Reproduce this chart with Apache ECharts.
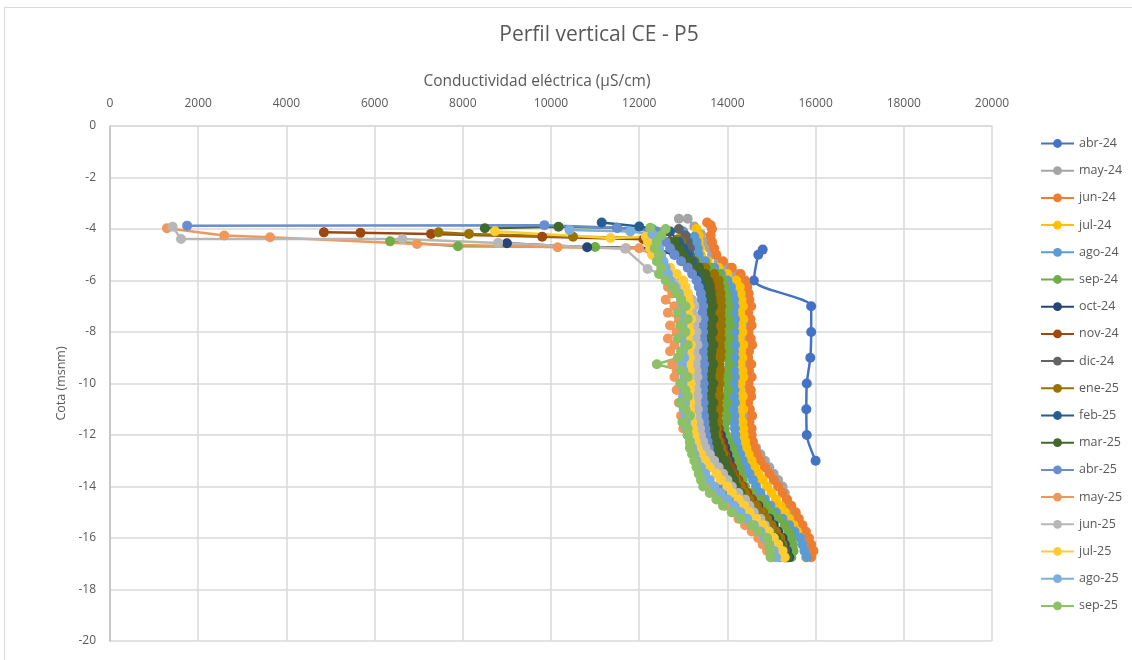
<!DOCTYPE html>
<html>
<head>
<meta charset="utf-8">
<script src="https://cdn.jsdelivr.net/npm/echarts@6/dist/echarts.min.js"></script>
<style>
  html, body { margin: 0; padding: 0; background: #ffffff; }
  #chart { width: 1132px; height: 660px; }
</style>
</head>
<body>
<div id="chart"></div>
<script>
// Depth grid (m) shared by the profile readings below the water surface
const DEPTHS = [-4.5, -4.75, -5, -5.25, -5.5, -5.75, -6, -6.25, -6.5, -6.75,
  -7, -7.25, -7.5, -7.75, -8, -8.25, -8.5, -8.75, -9, -9.25,
  -9.5, -9.75, -10, -10.25, -10.5, -10.75, -11, -11.25, -11.5, -11.75,
  -12, -12.25, -12.5, -12.75, -13, -13.25, -13.5, -13.75, -14, -14.25,
  -14.5, -14.75, -15, -15.25, -15.5, -15.75, -16, -16.25, -16.5, -16.75];

const X_TICKS = [0, 2000, 4000, 6000, 8000, 10000, 12000, 14000, 16000, 18000, 20000];
const Y_TICKS = [0, -2, -4, -6, -8, -10, -12, -14, -16, -18, -20];

// abr-24: point readings [CE, cota]
const pts_abr24 = [[14800, -4.8], [14700, -5.0], [14600, -6.0], [15900, -7], [15900, -8],
  [15880, -9], [15800, -10], [15790, -11], [15800, -12], [16000, -13]];

// Readings near the surface [CE, cota]
const top_may24 = [[12900, -3.6], [13100, -3.6], [13250, -3.9], [13400, -4.2]];
const top_jun24 = [[13540, -3.75], [13620, -3.85], [13650, -4.0], [13620, -4.25]];
const top_jul24 = [[13300, -4.0], [13350, -4.25]];
const top_ago24 = [[12300, -4.0], [13000, -4.1], [13250, -4.3]];
const top_sep24 = [[6350, -4.48], [7890, -4.67], [11000, -4.7]];
const top_oct24 = [[9000, -4.55], [10820, -4.71]];
const top_nov24 = [[4850, -4.13], [5680, -4.15], [7280, -4.19], [9800, -4.3], [12100, -4.4]];
const top_dic24 = [[12900, -4.0], [13050, -4.25]];
const top_ene25 = [[7450, -4.13], [8140, -4.19], [10500, -4.3], [12500, -4.35], [12880, -4.4]];
const top_feb25 = [[11150, -3.75], [12000, -3.9], [12700, -4.1]];
const top_mar25 = [[8500, -3.97], [10170, -3.91], [11500, -3.95], [12600, -4.1]];
const top_abr25 = [[1750, -3.87], [9850, -3.85], [11500, -3.95], [12400, -4.1]];
const top_may25 = [[1290, -3.97], [2590, -4.25], [3630, -4.32], [6960, -4.58], [10150, -4.71], [11700, -4.75]];
const top_jun25 = [[1420, -3.91], [1610, -4.39], [6630, -4.39], [8800, -4.54], [11680, -4.77], [12190, -5.55]];
const top_jul25 = [[8730, -4.09], [11350, -4.35], [12150, -4.3]];
const top_ago25 = [[10420, -4.04], [11800, -4.1], [12300, -4.2]];
const top_sep25 = [[12250, -3.95], [12600, -4.0], [12500, -4.25]];

// Conductividad (µS/cm) at each depth of DEPTHS
const ce_may24 = [13500, 13600, 13650, 13800, 14000, 14200, 14300, 14350, 14380, 14400,
  14400, 14380, 14420, 14400, 14390, 14410, 14400, 14420, 14380, 14400,
  14410, 14400, 14380, 14420, 14400, 14410, 14390, 14400, 14420, 14450,
  14480, 14550, 14650, 14750, 14850, 14950, 15050, 15150, 15250, 15300,
  15350, 15400, 15480, 15550, 15620, 15700, 15780, 15850, 15880, null];
const ce_jun24 = [13650, 13700, 13750, 13900, 14100, 14300, 14400, 14450, 14480, 14500,
  14540, 14470, 14520, 14550, 14480, 14530, 14560, 14490, 14470, 14540,
  14490, 14550, 14480, 14530, 14540, 14470, 14510, 14560, 14500, 14550,
  14550, 14580, 14620, 14680, 14750, 14850, 14950, 15050, 15150, 15250,
  15350, 15450, 15550, 15620, 15700, 15780, 15850, 15900, 15950, 15900];
const ce_jul24 = [13350, 13380, 13400, 13550, 13800, 14000, 14200, 14280, 14300, 14320,
  14350, 14290, 14360, 14310, 14340, 14280, 14360, 14310, 14340, 14290,
  14340, 14360, 14300, 14290, 14350, 14310, 14360, 14290, 14340, 14360,
  14370, 14400, 14430, 14480, 14550, 14620, 14700, 14800, 14900, 15000,
  15100, 15200, 15300, 15400, 15500, 15580, 15650, 15700, 15750, 15780];
const ce_ago24 = [13300, 13330, 13350, 13500, 13700, 13850, 14000, 14080, 14120, 14150,
  14160, 14140, 14170, 14150, 14160, 14140, 14170, 14150, 14160, 14140,
  14150, 14170, 14140, 14160, 14150, 14170, 14140, 14160, 14150, 14170,
  14180, 14200, 14230, 14290, 14350, 14420, 14500, 14580, 14650, 14750,
  14850, 14980, 15100, 15250, 15400, 15520, 15650, 15700, 15750, 15800];
const ce_sep24 = [null, 12300, 12900, 13300, 13600, 13800, 13900, 13950, 13980, 14000,
  14040, 13970, 14030, 14060, 13990, 14040, 13970, 14030, 13990, 14050,
  13970, 14010, 13960, 14020, 13950, 14000, 13940, 13990, 13960, 13940,
  13970, 14030, 14100, 14150, 14200, 14250, 14300, 14350, 14400, 14550,
  14750, 14880, 15000, 15150, 15300, 15380, 15450, 15480, 15500, 15450];
const ce_oct24 = [null, 12300, 12800, 13000, 13200, 13400, 13500, 13600, 13650, 13700,
  13720, 13700, 13740, 13720, 13750, 13730, 13760, 13740, 13750, 13760,
  13740, 13760, 13750, 13770, 13750, 13760, 13780, 13770, 13760, 13800,
  13850, 13900, 13950, 14000, 14050, 14100, 14150, 14200, 14300, 14400,
  14550, 14700, 14800, 14950, 15050, 15150, 15250, 15300, 15350, 15400];
const ce_nov24 = [12700, 12900, 13000, 13150, 13300, 13450, 13600, 13650, 13700, 13720,
  13740, 13720, 13750, 13730, 13760, 13740, 13750, 13720, 13740, 13760,
  13730, 13750, 13760, 13740, 13750, 13770, 13750, 13760, 13780, 13790,
  13800, 13850, 13900, 13950, 14000, 14080, 14150, 14250, 14350, 14450,
  14550, 14680, 14800, 14900, 15000, 15100, 15200, 15250, 15300, 15350];
const ce_dic24 = [13100, 13150, 13150, 13250, 13400, 13500, 13550, 13580, 13600, 13620,
  13640, 13620, 13650, 13630, 13650, 13640, 13660, 13640, 13650, 13630,
  13650, 13660, 13640, 13650, 13630, 13650, 13660, 13640, 13650, 13680,
  13700, 13750, 13800, 13850, 13900, 13980, 14050, 14150, 14250, 14350,
  14450, 14580, 14700, 14820, 14930, 15030, 15120, 15200, 15250, 15300];
const ce_ene25 = [12950, 12980, 13000, 13200, 13500, 13700, 13800, 13820, 13840, 13850,
  13860, 13840, 13850, 13860, 13840, 13850, 13830, 13850, 13840, 13820,
  13830, 13810, 13820, 13800, 13810, 13790, 13800, 13780, 13770, 13760,
  13750, 13800, 13850, 13900, 13950, 14000, 14100, 14200, 14300, 14400,
  14500, 14650, 14800, 14900, 15000, 15100, 15200, 15250, 15300, 15300];
const ce_feb25 = [12900, 13000, 13100, 13200, 13350, 13450, 13500, 13550, 13580, 13600,
  13610, 13600, 13620, 13600, 13610, 13590, 13620, 13600, 13610, 13600,
  13620, 13600, 13610, 13590, 13600, 13620, 13610, 13600, 13620, 13640,
  13660, 13700, 13750, 13800, 13850, 13920, 14000, 14080, 14150, 14250,
  14350, 14480, 14600, 14720, 14850, 14950, 15050, 15150, 15250, 15330];
const ce_mar25 = [12800, 12900, 13000, 13150, 13350, 13500, 13550, 13600, 13620, 13640,
  13670, 13610, 13680, 13620, 13670, 13610, 13680, 13640, 13620, 13680,
  13640, 13620, 13680, 13640, 13620, 13680, 13640, 13690, 13670, 13710,
  13700, 13750, 13800, 13850, 13950, 14000, 14080, 14150, 14200, 14300,
  14400, 14500, 14600, 14750, 14850, 14950, 15100, 15200, 15300, 15370];
const ce_abr25 = [12600, 12700, 12800, 12950, 13100, 13200, 13300, 13350, 13400, 13420,
  13450, 13430, 13460, 13440, 13450, 13430, 13460, 13440, 13450, 13470,
  13450, 13440, 13460, 13450, 13440, 13460, 13450, 13470, 13480, 13500,
  13520, 13550, 13580, 13600, 13650, 13700, 13800, 13850, 13900, 14000,
  14100, 14250, 14400, 14550, 14700, 14850, 14950, 15050, 15150, 15200];
const ce_may25 = [null, 12000, 12300, 12500, 12600, 12700, 12800, 12650, 12750, 12600,
  12800, 12650, 12900, 12700, 12850, 12650, 12800, 12700, 12900, 12750,
  12850, 12800, 12950, 12850, 13000, 12900, 13050, 12950, 13050, 13000,
  13100, 13150, 13200, 13250, 13300, 13400, 13450, 13550, 13600, 13700,
  13800, 13950, 14100, 14250, 14400, 14550, 14700, 14800, 14900, 15000];
const ce_jun25 = [null, null, null, null, null, 12500, 12800, 13000, 13100, 13200,
  13250, 13200, 13300, 13250, 13300, 13280, 13320, 13250, 13300, 13280,
  13300, 13320, 13280, 13300, 13320, 13300, 13330, 13310, 13350, 13380,
  13400, 13450, 13500, 13600, 13700, 13800, 13900, 14000, 14100, 14250,
  14400, 14500, 14600, 14750, 14850, 14950, 15050, 15150, 15200, 15250];
const ce_jul25 = [12200, 12250, 12300, 12500, 12700, 12850, 13000, 13050, 13100, 13120,
  13150, 13100, 13180, 13120, 13150, 13100, 13170, 13130, 13150, 13120,
  13150, 13130, 13170, 13150, 13140, 13160, 13150, 13180, 13200, 13220,
  13250, 13280, 13320, 13400, 13500, 13600, 13750, 13850, 14000, 14100,
  14250, 14380, 14500, 14650, 14800, 14920, 15050, 15150, 15250, 15300];
const ce_ago25 = [12400, 12450, 12500, 12550, 12600, 12650, 12700, 12800, 12900, 12950,
  13000, 12950, 13050, 12980, 13020, 12960, 13040, 12990, 13020, 12970,
  13000, 13030, 12980, 13020, 13000, 13040, 13010, 13050, 13060, 13080,
  13100, 13150, 13200, 13250, 13300, 13400, 13500, 13600, 13700, 13850,
  14000, 14150, 14300, 14450, 14600, 14750, 14850, 14950, 15050, 15100];
const ce_sep25 = [12400, 12350, 12450, 12400, 12500, 12450, 12600, 12750, 12850, 12950,
  13050, 12880, 13100, 12930, 13050, 12880, 13100, 12950, 12880, 12400,
  12950, 13100, 12930, 13050, 13100, 12930, 13050, 13150, 12980, 13100,
  13100, 13150, 13150, 13200, 13250, 13300, 13350, 13400, 13450, 13600,
  13750, 13900, 14100, 14300, 14550, 14700, 14900, 14950, 14970, 14980];

const SERIES_NAMES = ['abr-24', 'may-24', 'jun-24', 'jul-24', 'ago-24', 'sep-24', 'oct-24', 'nov-24', 'dic-24',
  'ene-25', 'feb-25', 'mar-25', 'abr-25', 'may-25', 'jun-25', 'jul-25', 'ago-25', 'sep-25'];
const SERIES_COLORS = ['#4472C4', '#A5A5A5', '#ED7D31', '#FFC000', '#5B9BD5', '#70AD47', '#264478', '#9E480E', '#636363',
  '#997300', '#255E91', '#43682B', '#698ED0', '#F1975A', '#B7B7B7', '#FFCD33', '#7CAFDD', '#8CC168'];
const SERIES_TOP = [pts_abr24, top_may24, top_jun24, top_jul24, top_ago24, top_sep24, top_oct24, top_nov24, top_dic24,
  top_ene25, top_feb25, top_mar25, top_abr25, top_may25, top_jun25, top_jul25, top_ago25, top_sep25];
const SERIES_CE = [null, ce_may24, ce_jun24, ce_jul24, ce_ago24, ce_sep24, ce_oct24, ce_nov24, ce_dic24,
  ce_ene25, ce_feb25, ce_mar25, ce_abr25, ce_may25, ce_jun25, ce_jul25, ce_ago25, ce_sep25];

function buildPoints(top, ce) {
  const pts = top.map(p => [p[0], p[1]]);
  if (ce) {
    ce.forEach((v, i) => { if (v !== null) pts.push([v, DEPTHS[i]]); });
  }
  return pts;
}

const FONT = '"Open Sans", "Noto Sans", sans-serif';
const TXT = '#595959';
const GRIDLINE = '#D9D9D9';

const chart = echarts.init(document.getElementById('chart'), null, { renderer: 'canvas' });

const series = SERIES_NAMES.map((name, k) => ({
  name: name,
  type: 'line',
  data: buildPoints(SERIES_TOP[k], SERIES_CE[k]),
  symbol: 'circle',
  symbolSize: 10,
  showSymbol: true,
  smooth: k === 0 ? 0.25 : false,
  color: SERIES_COLORS[k],
  itemStyle: { color: SERIES_COLORS[k] },
  lineStyle: { color: SERIES_COLORS[k], width: 2.5 },
  emphasis: { disabled: true },
  animation: false
}));

chart.setOption({
  animation: false,
  backgroundColor: '#ffffff',
  textStyle: { fontFamily: FONT },
  graphic: [{
    type: 'rect',
    shape: { x: 4.5, y: 7.5, width: 1140, height: 660 },
    style: { fill: 'none', stroke: '#D9D9D9', lineWidth: 1 },
    silent: true
  }],
  title: {
    text: 'Perfil vertical CE - P5',
    left: 594,
    textAlign: 'center',
    top: 20,
    textStyle: { fontFamily: FONT, fontSize: 21, fontWeight: 'normal', color: TXT }
  },
  legend: {
    orient: 'vertical',
    left: 1035,
    top: 132,
    itemWidth: 33,
    itemHeight: 11,
    itemGap: 14.2,
    textStyle: { fontFamily: FONT, fontSize: 12.5, color: TXT },
    data: SERIES_NAMES
  },
  grid: { left: 110, top: 126, right: 140, bottom: 19, containLabel: false },
  xAxis: {
    type: 'value',
    position: 'top',
    min: X_TICKS[0],
    max: X_TICKS[X_TICKS.length - 1],
    interval: 2000,
    name: 'Conductividad eléctrica (µS/cm)',
    nameLocation: 'middle',
    nameGap: 36,
    nameTextStyle: { fontFamily: FONT, fontSize: 15.5, color: TXT, padding: [0, 28, 0, 0] },
    axisLine: { show: true, onZero: false, lineStyle: { color: GRIDLINE, width: 1.5 } },
    axisTick: { show: false },
    axisLabel: { fontFamily: FONT, fontSize: 12, color: TXT, margin: 16, formatter: v => String(v) },
    splitLine: { show: true, lineStyle: { color: GRIDLINE, width: 1.5 } }
  },
  yAxis: {
    type: 'value',
    min: Y_TICKS[Y_TICKS.length - 1],
    max: Y_TICKS[0],
    interval: 2,
    name: 'Cota (msnm)',
    nameLocation: 'middle',
    nameGap: 42,
    nameRotate: 90,
    nameTextStyle: { fontFamily: FONT, fontSize: 12.5, color: TXT },
    axisLine: { show: true, onZero: false, lineStyle: { color: '#BFBFBF', width: 1.5 } },
    axisTick: { show: false },
    axisLabel: { fontFamily: FONT, fontSize: 12, color: TXT, margin: 14, formatter: v => String(v) },
    splitLine: { show: true, lineStyle: { color: GRIDLINE, width: 1.5 } }
  },
  series: series
});
</script>
</body>
</html>
